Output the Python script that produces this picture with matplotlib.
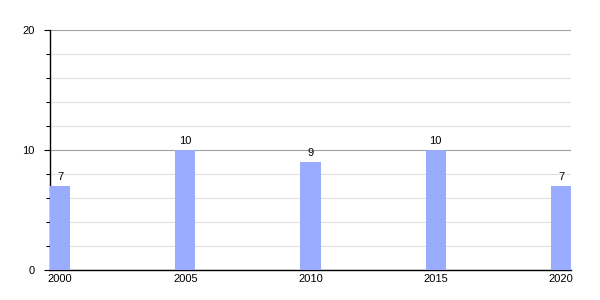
import numpy as np
import matplotlib.pyplot as plt
from matplotlib.ticker import MultipleLocator

plt.rcParams["font.family"] = ["Liberation Sans", "DejaVu Sans"]

years = [2000, 2005, 2010, 2015, 2020]
values = [7, 10, 9, 10, 7]
year_labels = ["2000", "2005", "2010", "2015", "2020"]

fig = plt.figure(figsize=(6, 3), dpi=100)
ax = fig.add_axes([50 / 600, 30 / 300, 521 / 600, 240 / 300])

bars = ax.bar(years, values, width=0.8, color="#9aacff", zorder=3)
for x, v in zip(years, values):
    ax.text(x, v + 0.3, str(v), ha="center", va="bottom", fontsize=8, zorder=4)

ax.set_xlim(1999.6, 2020.4)
ax.set_ylim(0, 20)
ax.set_xticks(years)
ax.set_xticklabels(year_labels, fontsize=8)
ax.tick_params(axis="x", length=0, pad=3)

ax.yaxis.set_major_locator(MultipleLocator(10))
ax.yaxis.set_minor_locator(MultipleLocator(2))
ax.tick_params(axis="y", which="major", length=4, width=0.8, labelsize=8, pad=7)
ax.tick_params(axis="y", which="minor", length=3, width=0.8)

ax.grid(axis="y", which="major", color="#a0a0a0", linewidth=0.8, zorder=1)
ax.grid(axis="y", which="minor", color="#e0e0e0", linewidth=0.8, zorder=1)

ax.spines["top"].set_visible(False)
ax.spines["right"].set_visible(False)
ax.spines["left"].set_linewidth(1)
ax.spines["bottom"].set_linewidth(1)

fig.savefig("out.png", dpi=100)
